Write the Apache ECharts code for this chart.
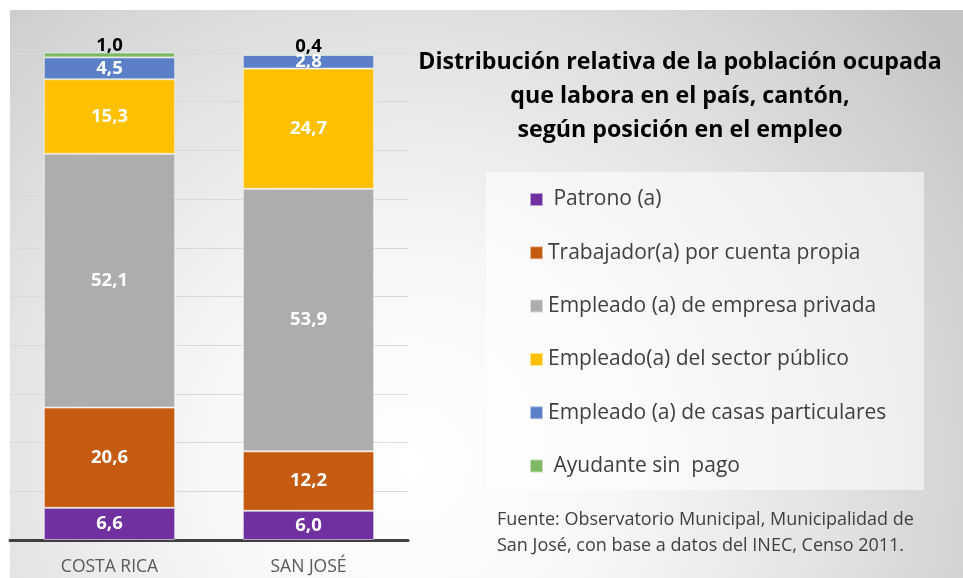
<!DOCTYPE html>
<html>
<head>
<meta charset="utf-8">
<script src="https://cdn.jsdelivr.net/npm/echarts@6/dist/echarts.min.js"></script>
<style>
  html, body { margin: 0; padding: 0; background: #fff; }
  #chart { width: 963px; height: 578px; }
</style>
</head>
<body>
<div id="chart"></div>
<script>
// datos
const categorias = ["COSTA RICA", "SAN JOSÉ"];
const nombres = [
    " Patrono (a)",
    "Trabajador(a) por cuenta propia",
    "Empleado (a) de empresa privada",
    "Empleado(a) del sector público",
    "Empleado (a) de casas particulares",
    " Ayudante sin  pago"
];
const patrono = [6.6, 6.0];
const cuentaPropia = [20.6, 12.2];
const empresaPrivada = [52.1, 53.9];
const sectorPublico = [15.3, 24.7];
const casasParticulares = [4.5, 2.8];
const ayudante = [1.0, 0.4];
const colores = ["#7030A0", "#C55A11", "#ADADAD", "#FFC000", "#5B80C8", "#7DB862"];

const FONT = "'Open Sans', sans-serif";
const fmt = v => v.toFixed(1).replace(".", ",");

const chart = echarts.init(document.getElementById("chart"));

const valores = [patrono, cuentaPropia, empresaPrivada, sectorPublico, casasParticulares, ayudante];

const series = valores.map((vals, i) => ({
    name: nombres[i],
    type: "bar",
    stack: "total",
    barWidth: "66%",
    data: vals,
    itemStyle: {
        color: colores[i],
        borderColor: "rgba(255,255,255,0.55)",
        borderWidth: 1
    },
    label: {
        show: true,
        position: i === 5 ? "top" : "inside",
        distance: -3,
        formatter: p => fmt(p.value),
        color: i === 5 ? "#000" : "#fff",
        fontFamily: FONT,
        fontWeight: "bold",
        fontSize: 18.5
    }
}));

chart.setOption({
    animation: false,
    graphic: [
        {
            type: "rect",
            z: -10,
            shape: { x: 10, y: 10, width: 953, height: 568 },
            style: {
                fill: {
                    type: "radial",
                    x: 0.42, y: 0.8, r: 1.2,
                    colorStops: [
                        { offset: 0, color: "#ffffff" },
                        { offset: 0.3, color: "#f7f7f7" },
                        { offset: 0.6, color: "#e4e4e4" },
                        { offset: 0.9, color: "#cdcdcd" },
                        { offset: 1, color: "#c4c4c4" }
                    ]
                }
            }
        },
        {
            type: "rect",
            z: -5,
            shape: { x: 486, y: 172, width: 438, height: 318 },
            style: { fill: "rgba(255,255,255,0.55)" }
        },
        {
            type: "text",
            left: 497,
            top: 507,
            style: {
                text: "Fuente: Observatorio Municipal, Municipalidad de\nSan José, con base a datos del INEC, Censo 2011.",
                font: "18px " + FONT,
                fill: "#404040",
                lineHeight: 26
            }
        }
    ],
    title: {
        text: "Distribución relativa de la población ocupada\nque labora en el país, cantón,\nsegún posición en el empleo",
        left: 680,
        top: 45,
        padding: 0,
        textAlign: "center",
        textStyle: {
            fontFamily: FONT,
            fontWeight: "bold",
            fontSize: 23.2,
            color: "#000",
            lineHeight: 34
        }
    },
    legend: {
        orient: "vertical",
        left: 529,
        top: 189,
        padding: 0,
        itemWidth: 13,
        itemHeight: 13,
        itemGap: 32.3,
        icon: "rect",
        textStyle: {
            fontFamily: FONT,
            fontSize: 21,
            color: "#404040",
            lineHeight: 21
        },
        data: nombres
    },
    grid: { left: 10, right: 555, top: 53, bottom: 38 },
    xAxis: {
        type: "category",
        data: categorias,
        axisLine: { lineStyle: { color: "#404040", width: 3 } },
        axisTick: { show: false },
        axisLabel: {
            color: "#595959",
            fontFamily: FONT,
            fontSize: 17.5,
            margin: 18
        }
    },
    yAxis: {
        type: "value",
        min: 0,
        max: 100,
        interval: 10,
        axisLabel: { show: false },
        axisLine: { show: false },
        axisTick: { show: false },
        splitLine: { lineStyle: { color: "#d9d9d9", width: 1 } }
    },
    series: series
});
</script>
</body>
</html>
